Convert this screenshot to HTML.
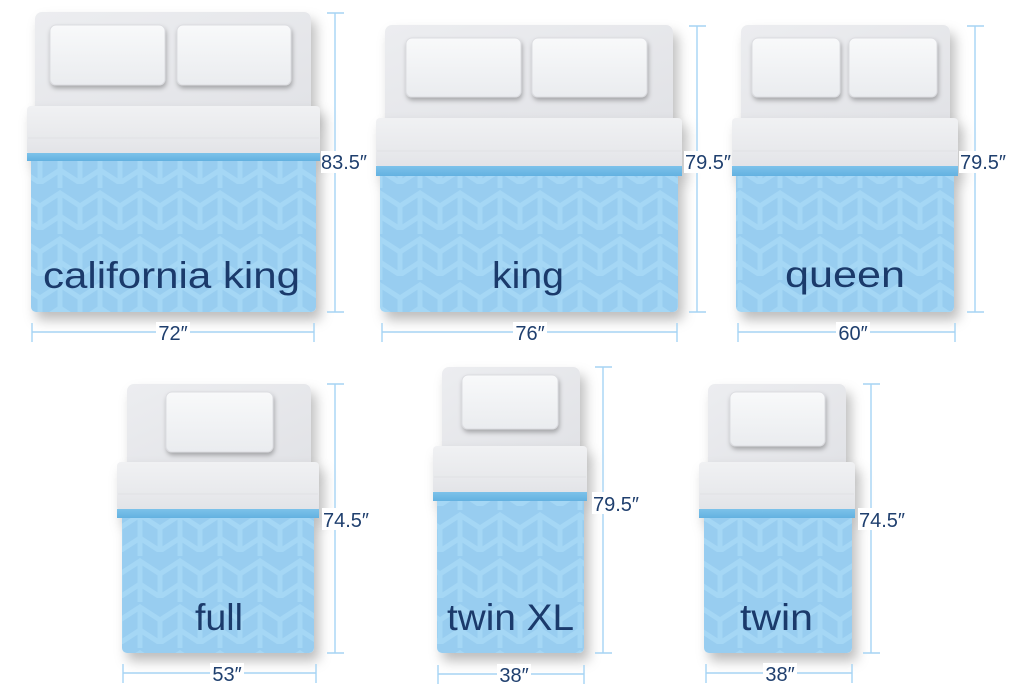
<!DOCTYPE html>
<html><head><meta charset="utf-8"><style>
html,body{margin:0;padding:0;background:#fff;}
svg{display:block;}
.lbl{font-family:"Liberation Sans","DejaVu Sans",sans-serif;fill:#1b3a6b;font-size:37px;}
.dim{font-family:"Liberation Sans","DejaVu Sans",sans-serif;fill:#1f3f6e;font-size:20px;}
.dl{stroke:#a6d4f4;stroke-width:1.4;fill:none;}
</style></head><body>
<svg width="1023" height="698" viewBox="0 0 1023 698" xmlns="http://www.w3.org/2000/svg">
<defs>
  <filter id="sh" x="-15%" y="-15%" width="140%" height="140%">
    <feDropShadow dx="5" dy="8" stdDeviation="6" flood-color="#000" flood-opacity="0.26"/>
  </filter>
  <filter id="ps" x="-20%" y="-20%" width="150%" height="160%">
    <feDropShadow dx="1" dy="3" stdDeviation="2.5" flood-color="#000" flood-opacity="0.28"/>
  </filter>
  <pattern id="pat" width="40" height="46" patternUnits="userSpaceOnUse">
    <rect width="40" height="46" fill="#98cdf0"/>
    <g stroke="#a5d7f5" stroke-width="5" fill="none">
      <polyline points="0,22 20,9 40,22"/>
      <polyline points="0,45 20,32 40,45"/>
      <line x1="20" y1="9" x2="20" y2="46"/>
      <line x1="20" y1="0" x2="20" y2="4"/>
      <line x1="0" y1="22" x2="0" y2="46"/>
      <line x1="40" y1="22" x2="40" y2="46"/>
    </g>
  </pattern>
  <linearGradient id="fold" x1="0" y1="0" x2="0" y2="1">
    <stop offset="0" stop-color="#f0f1f3"/>
    <stop offset="0.65" stop-color="#e8e9ec"/>
    <stop offset="1" stop-color="#e2e3e7"/>
  </linearGradient>
  <linearGradient id="hb" x1="0" y1="0" x2="1" y2="1">
    <stop offset="0" stop-color="#ecedf0"/>
    <stop offset="1" stop-color="#e1e2e6"/>
  </linearGradient>
  <linearGradient id="pil" x1="0" y1="0" x2="0" y2="1">
    <stop offset="0" stop-color="#f8f9fa"/>
    <stop offset="1" stop-color="#eaecef"/>
  </linearGradient>
  <linearGradient id="band" x1="0" y1="0" x2="0" y2="1">
    <stop offset="0" stop-color="#7cc2ea"/>
    <stop offset="1" stop-color="#63b1e0"/>
  </linearGradient>
</defs>

<!-- ============ CALIFORNIA KING ============ -->
<rect x="35" y="12" width="276" height="110" rx="7" fill="url(#hb)" filter="url(#sh)"/>
<rect x="50" y="25" width="115" height="60" rx="6" fill="url(#pil)" stroke="#dcdde1" stroke-width="1" filter="url(#ps)"/>
<rect x="177" y="25" width="114" height="60" rx="6" fill="url(#pil)" stroke="#dcdde1" stroke-width="1" filter="url(#ps)"/>
<g filter="url(#sh)">
  <rect x="31" y="156" width="285" height="156" rx="5" fill="url(#pat)"/>
  <rect x="27" y="106" width="293" height="49" rx="4" fill="url(#fold)"/>
  <rect x="27" y="153" width="293" height="8" fill="url(#band)"/>
</g>
<line x1="28" y1="138" x2="319" y2="138" stroke="#e0e1e5" stroke-width="1"/>
<text class="lbl" x="171.5" y="288" text-anchor="middle" textLength="257" lengthAdjust="spacingAndGlyphs">california king</text>
<line class="dl" x1="335" y1="13" x2="335" y2="312"/>
<line class="dl" x1="327" y1="13" x2="344" y2="13"/>
<line class="dl" x1="327" y1="312" x2="344" y2="312"/>
<rect x="321" y="151" width="40" height="22" fill="#fff"/>
<text class="dim" x="321" y="169">83.5″</text>
<line class="dl" x1="32" y1="332" x2="314" y2="332"/>
<line class="dl" x1="32" y1="323" x2="32" y2="342"/>
<line class="dl" x1="314" y1="323" x2="314" y2="342"/>
<rect x="156" y="322" width="34" height="22" fill="#fff"/>
<text class="dim" x="173" y="340" text-anchor="middle">72″</text>

<!-- ============ KING ============ -->
<rect x="385" y="25" width="288" height="100" rx="7" fill="url(#hb)" filter="url(#sh)"/>
<rect x="406" y="38" width="115" height="59" rx="6" fill="url(#pil)" stroke="#dcdde1" stroke-width="1" filter="url(#ps)"/>
<rect x="532" y="38" width="115" height="59" rx="6" fill="url(#pil)" stroke="#dcdde1" stroke-width="1" filter="url(#ps)"/>
<g filter="url(#sh)">
  <rect x="380" y="170" width="298" height="142" rx="5" fill="url(#pat)"/>
  <rect x="376" y="118" width="306" height="50" rx="4" fill="url(#fold)"/>
  <rect x="376" y="166" width="306" height="10" fill="url(#band)"/>
</g>
<line x1="377" y1="151" x2="681" y2="151" stroke="#e0e1e5" stroke-width="1"/>
<text class="lbl" x="528" y="288" text-anchor="middle" textLength="72" lengthAdjust="spacingAndGlyphs">king</text>
<line class="dl" x1="697" y1="26" x2="697" y2="312"/>
<line class="dl" x1="689" y1="26" x2="706" y2="26"/>
<line class="dl" x1="689" y1="312" x2="706" y2="312"/>
<rect x="684" y="151" width="44" height="22" fill="#fff"/>
<text class="dim" x="685" y="169">79.5″</text>
<line class="dl" x1="382" y1="332" x2="677" y2="332"/>
<line class="dl" x1="382" y1="323" x2="382" y2="342"/>
<line class="dl" x1="677" y1="323" x2="677" y2="342"/>
<rect x="513" y="322" width="34" height="22" fill="#fff"/>
<text class="dim" x="530" y="340" text-anchor="middle">76″</text>

<!-- ============ QUEEN ============ -->
<rect x="741" y="25" width="209" height="100" rx="7" fill="url(#hb)" filter="url(#sh)"/>
<rect x="752" y="38" width="88" height="59" rx="6" fill="url(#pil)" stroke="#dcdde1" stroke-width="1" filter="url(#ps)"/>
<rect x="849" y="38" width="88" height="59" rx="6" fill="url(#pil)" stroke="#dcdde1" stroke-width="1" filter="url(#ps)"/>
<g filter="url(#sh)">
  <rect x="736" y="170" width="218" height="142" rx="5" fill="url(#pat)"/>
  <rect x="732" y="118" width="226" height="50" rx="4" fill="url(#fold)"/>
  <rect x="732" y="166" width="226" height="10" fill="url(#band)"/>
</g>
<line x1="733" y1="151" x2="957" y2="151" stroke="#e0e1e5" stroke-width="1"/>
<text class="lbl" x="845" y="287" text-anchor="middle" textLength="120" lengthAdjust="spacingAndGlyphs">queen</text>
<line class="dl" x1="975" y1="26" x2="975" y2="312"/>
<line class="dl" x1="967" y1="26" x2="984" y2="26"/>
<line class="dl" x1="967" y1="312" x2="984" y2="312"/>
<rect x="959" y="151" width="44" height="22" fill="#fff"/>
<text class="dim" x="960" y="169">79.5″</text>
<line class="dl" x1="738" y1="332" x2="955" y2="332"/>
<line class="dl" x1="738" y1="323" x2="738" y2="342"/>
<line class="dl" x1="955" y1="323" x2="955" y2="342"/>
<rect x="836" y="322" width="34" height="22" fill="#fff"/>
<text class="dim" x="853" y="340" text-anchor="middle">60″</text>

<!-- ============ FULL ============ -->
<rect x="127" y="384" width="184" height="85" rx="7" fill="url(#hb)" filter="url(#sh)"/>
<rect x="166" y="392" width="107" height="60" rx="6" fill="url(#pil)" stroke="#dcdde1" stroke-width="1" filter="url(#ps)"/>
<g filter="url(#sh)">
  <rect x="122" y="512" width="192" height="141" rx="5" fill="url(#pat)"/>
  <rect x="117" y="462" width="202" height="49" rx="4" fill="url(#fold)"/>
  <rect x="117" y="509" width="202" height="9" fill="url(#band)"/>
</g>
<line x1="118" y1="494" x2="318" y2="494" stroke="#e0e1e5" stroke-width="1"/>
<text class="lbl" x="219" y="630" text-anchor="middle" textLength="48" lengthAdjust="spacingAndGlyphs">full</text>
<line class="dl" x1="335" y1="384" x2="335" y2="653"/>
<line class="dl" x1="327" y1="384" x2="344" y2="384"/>
<line class="dl" x1="327" y1="653" x2="344" y2="653"/>
<rect x="322" y="508" width="44" height="22" fill="#fff"/>
<text class="dim" x="323" y="527">74.5″</text>
<line class="dl" x1="123" y1="673" x2="316" y2="673"/>
<line class="dl" x1="123" y1="664" x2="123" y2="683"/>
<line class="dl" x1="316" y1="664" x2="316" y2="683"/>
<rect x="210" y="663" width="34" height="22" fill="#fff"/>
<text class="dim" x="227" y="681" text-anchor="middle">53″</text>

<!-- ============ TWIN XL ============ -->
<rect x="442" y="367" width="138" height="85" rx="7" fill="url(#hb)" filter="url(#sh)"/>
<rect x="462" y="375" width="96" height="54" rx="6" fill="url(#pil)" stroke="#dcdde1" stroke-width="1" filter="url(#ps)"/>
<g filter="url(#sh)">
  <rect x="437" y="495" width="147" height="158" rx="5" fill="url(#pat)"/>
  <rect x="433" y="446" width="154" height="48" rx="4" fill="url(#fold)"/>
  <rect x="433" y="492" width="154" height="9" fill="url(#band)"/>
</g>
<line x1="434" y1="477" x2="586" y2="477" stroke="#e0e1e5" stroke-width="1"/>
<text class="lbl" x="510.5" y="630" text-anchor="middle" textLength="127" lengthAdjust="spacingAndGlyphs">twin XL</text>
<line class="dl" x1="603" y1="367" x2="603" y2="653"/>
<line class="dl" x1="595" y1="367" x2="612" y2="367"/>
<line class="dl" x1="595" y1="653" x2="612" y2="653"/>
<rect x="592" y="492" width="44" height="22" fill="#fff"/>
<text class="dim" x="593" y="511">79.5″</text>
<line class="dl" x1="438" y1="674" x2="584" y2="674"/>
<line class="dl" x1="438" y1="665" x2="438" y2="684"/>
<line class="dl" x1="584" y1="665" x2="584" y2="684"/>
<rect x="497" y="664" width="34" height="22" fill="#fff"/>
<text class="dim" x="514" y="682" text-anchor="middle">38″</text>

<!-- ============ TWIN ============ -->
<rect x="708" y="384" width="138" height="85" rx="7" fill="url(#hb)" filter="url(#sh)"/>
<rect x="730" y="392" width="95" height="54" rx="6" fill="url(#pil)" stroke="#dcdde1" stroke-width="1" filter="url(#ps)"/>
<g filter="url(#sh)">
  <rect x="704" y="512" width="148" height="141" rx="5" fill="url(#pat)"/>
  <rect x="699" y="462" width="156" height="49" rx="4" fill="url(#fold)"/>
  <rect x="699" y="509" width="156" height="9" fill="url(#band)"/>
</g>
<line x1="700" y1="494" x2="854" y2="494" stroke="#e0e1e5" stroke-width="1"/>
<text class="lbl" x="776.5" y="630" text-anchor="middle" textLength="73" lengthAdjust="spacingAndGlyphs">twin</text>
<line class="dl" x1="871" y1="384" x2="871" y2="653"/>
<line class="dl" x1="863" y1="384" x2="880" y2="384"/>
<line class="dl" x1="863" y1="653" x2="880" y2="653"/>
<rect x="858" y="508" width="44" height="22" fill="#fff"/>
<text class="dim" x="859" y="527">74.5″</text>
<line class="dl" x1="706" y1="673" x2="852" y2="673"/>
<line class="dl" x1="706" y1="664" x2="706" y2="683"/>
<line class="dl" x1="852" y1="664" x2="852" y2="683"/>
<rect x="763" y="663" width="34" height="22" fill="#fff"/>
<text class="dim" x="780" y="681" text-anchor="middle">38″</text>
</svg>
</body></html>
